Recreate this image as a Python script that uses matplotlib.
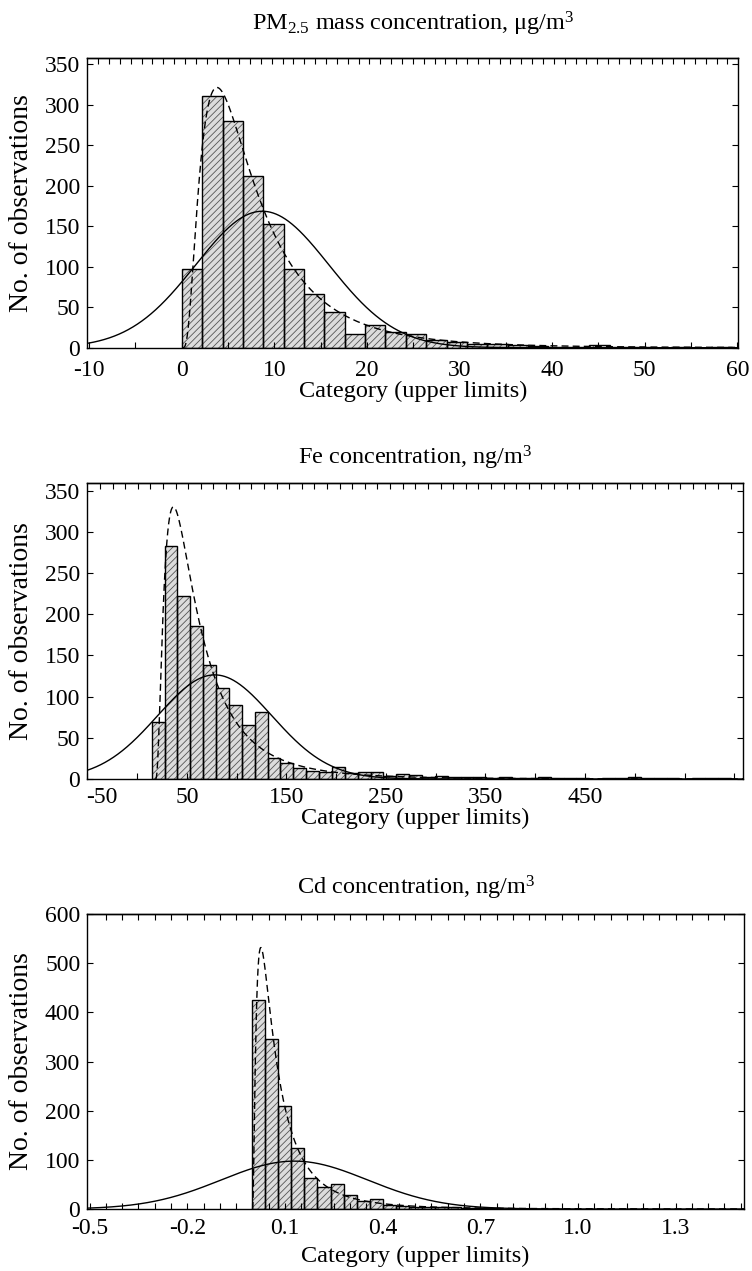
import numpy as np
import matplotlib
matplotlib.use('Agg')
import matplotlib.pyplot as plt

plt.rcParams['font.family'] = ['Liberation Serif', 'DejaVu Serif']
plt.rcParams['mathtext.fontset'] = 'custom'
plt.rcParams['mathtext.rm'] = 'Liberation Serif'
plt.rcParams['mathtext.it'] = 'Liberation Serif:italic'
plt.rcParams['hatch.linewidth'] = 0.6
plt.rcParams['hatch.color'] = '#555555'

# ---------------- data ----------------
pm_title = "PM$_{2.5}$ mass concentration, μg/m$^3$"
pm_bin_start = 0.0
pm_bin_width = 2.2
pm_counts = [97, 311, 280, 212, 153, 97, 66, 44, 17, 28, 19, 17, 10, 7,
             4, 5, 3, 2, 1, 1, 3, 1, 1, 0, 1, 0, 1]
pm_normal_fit = (8.7, 7.2)              # mean, sd
pm_lognormal_fit = (0.0, 1.8975, 0.75)  # threshold, mu, sigma
pm_xticks = [-10, 0, 10, 20, 30, 40, 50, 60]
pm_yticks = [0, 50, 100, 150, 200, 250, 300, 350]

fe_title = "Fe concentration, ng/m$^3$"
fe_bin_start = 14.7
fe_bin_width = 12.93
fe_counts = [69, 283, 222, 186, 138, 110, 90, 66, 81, 26, 19, 13, 10, 9, 15,
             7, 8, 8, 4, 6, 5, 3, 4, 2, 3, 2, 1, 2, 1, 1, 2, 1, 1, 1, 0, 1,
             1, 2, 1, 1, 1, 0, 1, 1, 1]
fe_normal_fit = (78.0, 57.5)
fe_lognormal_fit = (18.1, 3.618, 0.84)
fe_xticks = [-50, 50, 150, 250, 350, 450]
fe_yticks = [0, 50, 100, 150, 200, 250, 300, 350]

cd_title = "Cd concentration, ng/m$^3$"
cd_bin_start = 0.0
cd_bin_width = 0.04
cd_counts = [425, 345, 210, 125, 64, 44, 50, 28, 16, 20, 9, 7, 5, 5, 4, 4,
             3, 2, 2, 1, 1, 1, 0, 1, 1]
cd_normal_fit = (0.129, 0.225)
cd_lognormal_fit = (0.0, -2.689, 0.98)
cd_xticks = [-0.5, -0.2, 0.1, 0.4, 0.7, 1.0, 1.3]
cd_yticks = [0, 100, 200, 300, 400, 500, 600]

xlabel = "Category (upper limits)"
ylabel = "No. of observations"

W, H = 752, 1271
fig = plt.figure(figsize=(W / 100, H / 100), dpi=100)

TICK_FS = 17
TITLE_FS = 17.5
XLABEL_FS = 17.5
YLABEL_FS = 20


def px_axes(left, top, right, bottom):
    return fig.add_axes([left / W, 1 - bottom / H, (right - left) / W, (bottom - top) / H])


def draw_panel(ax, start, width, counts, nfit, lfit, xlim, ylim, xticks, xlabels,
               minor_step, top_ticks, yticks, xpad, first_label_left=False):
    counts = np.asarray(counts, dtype=float)
    edges = start + width * np.arange(len(counts))
    ax.bar(edges, counts, width=width, align='edge', facecolor='#dcdcdc',
           edgecolor='#555555', hatch='/////', linewidth=0, zorder=1)
    ax.bar(edges, counts, width=width, align='edge', fill=False,
           edgecolor='black', linewidth=1.0, zorder=2)
    total = counts.sum() * width
    x = np.linspace(xlim[0], xlim[1], 2000)
    mu, sd = nfit
    normal = total / (sd * np.sqrt(2 * np.pi)) * np.exp(-(x - mu) ** 2 / (2 * sd ** 2))
    ax.plot(x, normal, color='black', lw=1.0, zorder=3)
    t, lm, ls = lfit
    xl = x[x > t + 1e-9]
    y = xl - t
    logn = total / (y * ls * np.sqrt(2 * np.pi)) * np.exp(-(np.log(y) - lm) ** 2 / (2 * ls ** 2))
    ax.plot(xl, logn, color='black', lw=1.0, ls=(0, (5, 3)), zorder=3)

    ax.set_xlim(*xlim)
    ax.set_ylim(*ylim)
    minor = np.arange(xticks[0], xlim[1] + 1e-9, minor_step)
    allticks = sorted(set(np.round(np.concatenate([minor, xticks]), 6)))
    ax.set_xticks(allticks)
    labs = []
    for v in allticks:
        match = [lab for tv, lab in zip(xticks, xlabels) if abs(tv - v) < 1e-6]
        labs.append(match[0] if match else '')
    if first_label_left:
        # first label sits just right of the frame, as in the original
        ax.annotate(labs[0], xy=(allticks[0], 0), xycoords=('data', 'axes fraction'),
                    xytext=(-0.8, -xpad), textcoords='offset points',
                    ha='left', va='top', fontsize=TICK_FS)
        labs[0] = ''
    ax.set_xticklabels(labs)
    ax.set_yticks(yticks)
    ax.tick_params(direction='in', length=4.5, width=0.8, labelsize=TICK_FS,
                   top=False, right=True, pad=5)
    ax.tick_params(axis='x', pad=xpad)
    sec = ax.secondary_xaxis('top')
    sec.set_xticks(top_ticks)
    sec.tick_params(direction='in', length=4, width=0.8, labeltop=False)
    for s in sec.spines.values():
        s.set_linewidth(1.0)
    for s in ax.spines.values():
        s.set_linewidth(1.0)


# Panel 1
ax1 = px_axes(87.3, 58.3, 738.3, 347.7)
draw_panel(ax1, pm_bin_start, pm_bin_width, pm_counts, pm_normal_fit, pm_lognormal_fit,
           (-10.2, 60.1), (0, 357), pm_xticks, [str(v) for v in pm_xticks], 5,
           np.linspace(-10.2, 60.1, 61)[1:-1], pm_yticks, 8.5)

# Panel 2
ax2 = px_axes(87.3, 483.3, 743.3, 779.0)
draw_panel(ax2, fe_bin_start, fe_bin_width, fe_counts, fe_normal_fit, fe_lognormal_fit,
           (-50, 609), (0, 359), fe_xticks, [str(v) for v in fe_xticks], 50,
           np.linspace(-50, 609, 53)[1:-1], fe_yticks, 6, first_label_left=True)

# Panel 3
ax3 = px_axes(87.3, 914.0, 744.0, 1209.0)
draw_panel(ax3, cd_bin_start, cd_bin_width, cd_counts, cd_normal_fit, cd_lognormal_fit,
           (-0.507, 1.51), (0, 600), cd_xticks, ['%.1f' % v for v in cd_xticks], 0.05,
           np.arange(-0.5, 1.5, 0.05)[1:], cd_yticks, 6.5)

# Titles and labels
for ax, title, t_base, xl_base in [(ax1, pm_title, 31, 397),
                                   (ax2, fe_title, 465, 824),
                                   (ax3, cd_title, 895, 1262)]:
    bb = ax.get_position()
    xc = (bb.x0 + bb.x1) / 2
    yc = (bb.y0 + bb.y1) / 2
    fig.text(xc, 1 - t_base / H, title, ha='center', va='baseline', fontsize=TITLE_FS)
    fig.text(xc, 1 - xl_base / H, xlabel, ha='center', va='baseline', fontsize=XLABEL_FS)
    fig.text(22 / W, yc, ylabel, ha='center', va='center', rotation=90, fontsize=YLABEL_FS)

fig.savefig('out.png', dpi=100)
